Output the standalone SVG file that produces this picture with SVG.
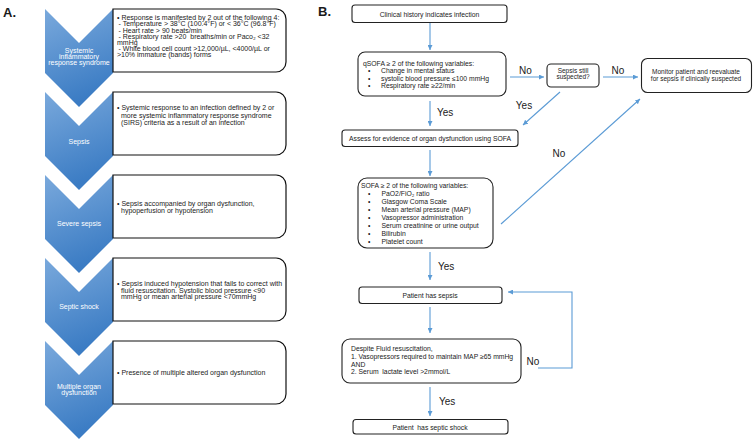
<svg xmlns="http://www.w3.org/2000/svg" width="754" height="441" viewBox="0 0 754 441">
<defs>
<linearGradient id="cg" x1="0" y1="0" x2="0.3" y2="1">
<stop offset="0" stop-color="#7aa9dc"/>
<stop offset="1" stop-color="#3b7cc4"/>
</linearGradient>
<marker id="ah" viewBox="0 0 10 10" refX="10" refY="5" markerWidth="5" markerHeight="5" orient="auto" markerUnits="userSpaceOnUse">
<path d="M0,0 L10,5 L0,10 Z" fill="#5b9bd5"/>
</marker>
<style>
text{font-family:"Liberation Sans",Arial,sans-serif;fill:#1a1a1a}
.chev{fill:url(#cg)}
.cl{fill:#ffffff;font-size:7px;text-anchor:middle}
.lb{fill:#fff;stroke:#111;stroke-width:1.2}
.t{font-size:7px}
.bx{fill:#fff;stroke:#222;stroke-width:1.1}
.r{font-size:6.8px}
.c{text-anchor:middle}
.yn{font-size:10px}
.ttl{font-size:13px;font-weight:bold}
.con{stroke:#5b9bd5;stroke-width:1.1;fill:none;marker-end:url(#ah)}
</style>
</defs>
<rect width="754" height="441" fill="#fff"/>
<text class="ttl" x="3" y="17">A.</text>
<text class="ttl" x="318" y="16">B.</text>

<g id="stage-sirs">
<path class="chev" d="M45,9 L79,43 L113,9 L113,73 L79,107 L45,73 Z"/>
<path class="lb" d="M113,9 H276 A10,10 0 0 1 286,19 V62 A10,10 0 0 1 276,72 H113 Z"/>
<text class="cl" x="79" y="52.5">Systemic</text>
<text class="cl" x="79" y="58.8">inflammatory</text>
<text class="cl" x="79" y="65.1">response syndrome</text>
<text class="t" x="117" y="20">• Response is manifested by 2 out of the following 4:</text>
<text class="t" x="118.5" y="26.4">- Temperature &gt; 38°C (100.4°F) or &lt; 36°C (96.8°F)</text>
<text class="t" x="118.5" y="32.6">- Heart rate &gt; 90 beats/min</text>
<text class="t" x="118.5" y="39.2" xml:space="preserve">- Respiratory rate &gt;20  breaths/min or Paco₂ &lt;32</text>
<text class="t" x="117" y="45">mmHg</text>
<text class="t" x="118.5" y="51.2">- White blood cell count &gt;12,000/µL, &lt;4000/µL or</text>
<text class="t" x="117" y="57.3">&gt;10% immature (bands) forms</text>
</g>

<g id="stage-sepsis">
<path class="chev" d="M45,92 L79,126 L113,92 L113,156 L79,190 L45,156 Z"/>
<path class="lb" d="M113,92 H276 A10,10 0 0 1 286,102 V145 A10,10 0 0 1 276,155 H113 Z"/>
<text class="cl" x="79" y="144.2">Sepsis</text>
<text class="t" x="117" y="110.2">• Systemic response to an infection defined by 2 or</text>
<text class="t" x="121" y="117.5">more systemic inflammatory response syndrome</text>
<text class="t" x="121" y="124.8">(SIRS) criteria as a result of an infection</text>
</g>

<g id="stage-severe">
<path class="chev" d="M45,175 L79,209 L113,175 L113,239 L79,273 L45,239 Z"/>
<path class="lb" d="M113,175 H276 A10,10 0 0 1 286,185 V228 A10,10 0 0 1 276,238 H113 Z"/>
<text class="cl" x="79" y="225.8">Severe sepsis</text>
<text class="t" x="117" y="205.8">• Sepsis accompanied by organ dysfunction,</text>
<text class="t" x="121" y="213.2">hypoperfusion or hypotension</text>
</g>

<g id="stage-shock">
<path class="chev" d="M45,258 L79,292 L113,258 L113,322 L79,356 L45,322 Z"/>
<path class="lb" d="M113,258 H276 A10,10 0 0 1 286,268 V311 A10,10 0 0 1 276,321 H113 Z"/>
<text class="cl" x="79" y="309.2">Septic shock</text>
<text class="t" x="117" y="285.8">• Sepsis induced hypotension that fails to correct with</text>
<text class="t" x="121" y="292.5">fluid resuscitation. Systolic blood pressure &lt;90</text>
<text class="t" x="121" y="299.2">mmHg or mean arterial pressure &lt;70mmHg</text>
</g>

<g id="stage-mods">
<path class="chev" d="M45,341 L79,375 L113,341 L113,405 L79,439 L45,405 Z"/>
<path class="lb" d="M113,341 H276 A10,10 0 0 1 286,351 V394 A10,10 0 0 1 276,404 H113 Z"/>
<text class="cl" x="79" y="389.2">Multiple organ</text>
<text class="cl" x="79" y="395.4">dysfunction</text>
<text class="t" x="117" y="375.2">• Presence of multiple altered organ dysfunction</text>
</g>

<g id="connectors">
<line class="con" x1="430" y1="23" x2="430" y2="50"/>
<line class="con" x1="510" y1="77" x2="544" y2="77"/>
<line class="con" x1="603" y1="77" x2="638" y2="77"/>
<line class="con" x1="560" y1="92" x2="523" y2="125"/>
<line class="con" x1="430" y1="101" x2="430" y2="126"/>
<line class="con" x1="430" y1="150" x2="430" y2="176"/>
<line class="con" x1="501" y1="224" x2="640" y2="99"/>
<line class="con" x1="430" y1="252" x2="430" y2="280"/>
<line class="con" x1="430" y1="307" x2="430" y2="333"/>
<polyline class="con" points="538,368 572,368 572,292 508,292"/>
<line class="con" x1="430" y1="387" x2="430" y2="416"/>
<text class="yn" x="525.5" y="73.5" text-anchor="middle">No</text>
<text class="yn" x="618" y="73.5" text-anchor="middle">No</text>
<text class="yn" x="524" y="108.5" text-anchor="middle">Yes</text>
<text class="yn" x="437" y="115.5">Yes</text>
<text class="yn" x="559" y="156.5" text-anchor="middle">No</text>
<text class="yn" x="438" y="269.5">Yes</text>
<text class="yn" x="533" y="364.5" text-anchor="middle">No</text>
<text class="yn" x="439" y="404.5">Yes</text>
</g>

<g id="clinical-history">
<rect class="bx" x="352" y="5" width="155" height="17.5" rx="3"/>
<text class="r c" x="429.5" y="16.5">Clinical history indicates infection</text>
</g>

<g id="qsofa">
<rect class="bx" x="358" y="52" width="148" height="44" rx="7"/>
<text class="r" x="363" y="65.5">qSOFA ≥ 2 of the following variables:</text>
<text class="r" x="368" y="73">•</text><text class="r" x="381" y="73">Change in mental status</text>
<text class="r" x="368" y="80.5">•</text><text class="r" x="381" y="80.5">systolic blood pressure ≤100 mmHg</text>
<text class="r" x="368" y="88">•</text><text class="r" x="381" y="88">Respiratory rate ≥22/min</text>
</g>

<g id="sepsis-still">
<rect class="bx" x="547" y="64" width="52" height="23" rx="4"/>
<text class="c" style="font-size:6.5px" x="573" y="72.5">Sepsis still</text>
<text class="c" style="font-size:6.5px" x="573" y="79.2">suspected?</text>
</g>

<g id="monitor">
<rect class="bx" x="641.5" y="58.5" width="110" height="34" rx="6"/>
<text class="c" style="font-size:6.5px" x="696" y="73.5">Monitor patient and reevaluate</text>
<text class="c" style="font-size:6.5px" x="696" y="80.5">for sepsis if clinically suspected</text>
</g>

<g id="assess">
<rect class="bx" x="342" y="130" width="176" height="16.5" rx="3"/>
<text class="r c" x="430" y="140.5">Assess for evidence of organ dysfunction using SOFA</text>
</g>

<g id="sofa">
<rect class="bx" x="358" y="178" width="135" height="70" rx="9"/>
<text class="r" x="361" y="188.2">SOFA ≥ 2 of the following variables:</text>
<text class="r" x="368" y="195.8">•</text><text class="r" x="381.5" y="195.8">PaO2/FiO₂ ratio</text>
<text class="r" x="368" y="203.5">•</text><text class="r" x="381.5" y="203.5">Glasgow Coma Scale</text>
<text class="r" x="368" y="211.8">•</text><text class="r" x="381.5" y="211.8">Mean arterial pressure (MAP)</text>
<text class="r" x="368" y="219.8">•</text><text class="r" x="381.5" y="219.8">Vasopressor administration</text>
<text class="r" x="368" y="228.2">•</text><text class="r" x="381.5" y="228.2">Serum creatinine or urine output</text>
<text class="r" x="368" y="235.8">•</text><text class="r" x="381.5" y="235.8">Bilirubin</text>
<text class="r" x="368" y="243.5">•</text><text class="r" x="381.5" y="243.5">Platelet count</text>
</g>

<g id="has-sepsis">
<rect class="bx" x="359" y="287" width="143" height="16.5" rx="3"/>
<text class="r c" x="430" y="297.5">Patient has sepsis</text>
</g>

<g id="despite">
<rect class="bx" x="342" y="339" width="179" height="44" rx="8"/>
<text class="r" x="351" y="350.8">Despite Fluid resuscitation,</text>
<text class="r" x="351" y="359.2">1. Vasopressors required to maintain MAP ≥65 mmHg</text>
<text class="r" x="351" y="366.5">AND</text>
<text class="r" x="351" y="374.2" xml:space="preserve">2. Serum  lactate level &gt;2mmol/L</text>
</g>

<g id="septic-shock">
<rect class="bx" x="353" y="419.5" width="155" height="14.5" rx="3"/>
<text class="r c" x="430" y="429.5" xml:space="preserve">Patient  has septic shock</text>
</g>
</svg>
